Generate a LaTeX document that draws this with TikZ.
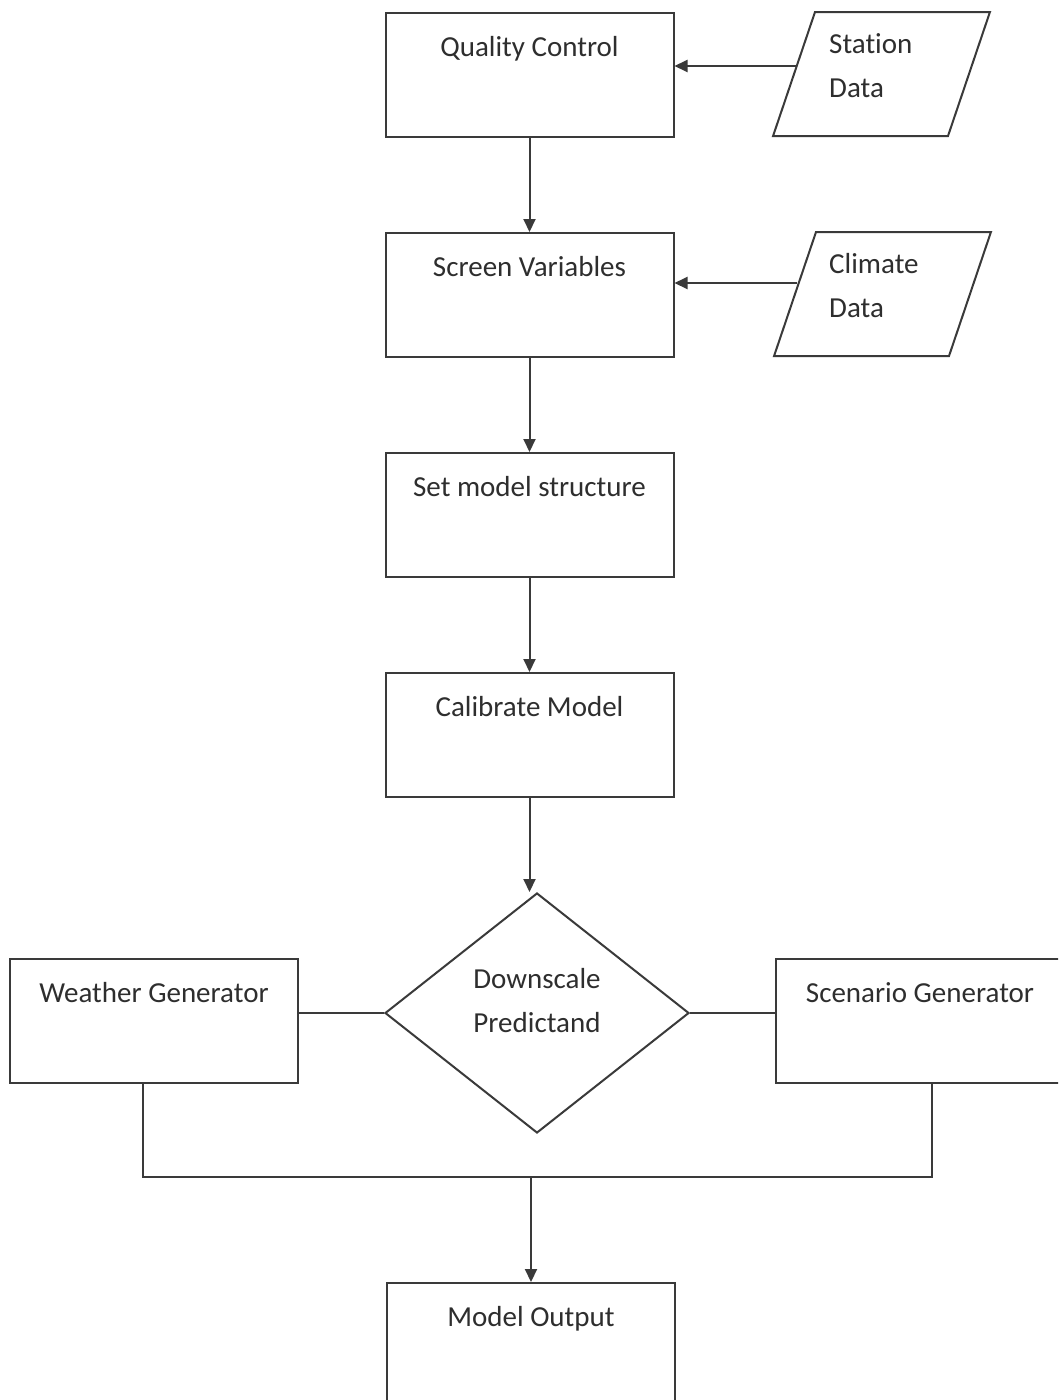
\documentclass[tikz,border=0pt]{standalone}
\usepackage{fontspec}
\setmainfont{Carlito}[Ligatures={NoCommon}]
\usetikzlibrary{arrows.meta,shapes.geometric,calc}
\definecolor{linec}{HTML}{3A3A3A}
\definecolor{txtc}{HTML}{2E2E2E}
\begin{document}
\begin{tikzpicture}[x=1pt,y=-1pt,
  line/.style={draw=linec, line width=2pt},
  arr/.style={line, -{Triangle[length=13pt,width=12pt]}},
  txt/.style={font=\fontsize{29}{44}\selectfont, text=txtc},
  box/.style={line, txt, rectangle, minimum width=288pt, inner xsep=0pt, inner ysep=0pt,
    text height=43pt, text depth=81pt, anchor=north},
  para/.style={line, trapezium, trapezium left angle=72.5, trapezium right angle=107.5,
    trapezium stretches=true, minimum width=217pt, minimum height=124pt, inner sep=4pt},
  lbl/.style={txt, align=left, inner sep=0pt, anchor=west},
  dmd/.style={line, diamond, minimum width=304pt, minimum height=240pt, inner sep=4pt},
]
\path[use as bounding box] (0,0) rectangle (1058,1400);
\clip (0,0) rectangle (1058,1400);
\fill[white] (0,0) rectangle (1058,1400);

% main column
\node[box] (qc)  at (529.5,12)  {Quality Control};
\node[box] (sv)  at (529.5,232) {Screen Variables};
\node[box] (sms) at (529.5,452) {Set model structure};
\node[box] (cm)  at (529.5,672) {Calibrate Model};
\node[box] (mo)  at (531,1282)  {Model Output};

% data inputs
\node[para] (stn) at (881.5,74) {};
\node[lbl] (stnT) at (829,66) {Station\\Data};
\node[para] (cli) at (882.5,294) {};
\node[lbl] (cliT) at (829,286) {Climate\\Data};

% decision and generators
\node[dmd] (dia) at (537,1013) {};
\node[txt, align=center, inner sep=0pt] (diaT) at (537,1001) {Downscale\\Predictand};
\node[box] (wg) at (154,958) {Weather Generator};
\node[box] (sg) at (920,958) {Scenario Generator};
\coordinate (jn) at (531,1177);

% connectors
\draw[arr] ([xshift=3pt,yshift=8pt]stn.west) -- ([yshift=8pt]stn.west -| qc.east);
\draw[arr] ([xshift=3.5pt,yshift=11pt]cli.west) -- ([yshift=11pt]cli.west -| sv.east);
\draw[arr] (qc.south) -- (sv.north);
\draw[arr] (sv.south) -- (sms.north);
\draw[arr] (sms.south) -- (cm.north);
\draw[arr] (cm.south) -- (cm.south |- dia.north);
\draw[line] (dia.west) -- (dia.west -| wg.east);
\draw[line] (dia.east) -- (dia.east -| sg.west);
\draw[line] ([xshift=-11pt]wg.south) -- ([xshift=-11pt]wg.south |- jn)
  -- ([xshift=12pt]sg.south |- jn) -- ([xshift=12pt]sg.south);
\draw[arr] (jn) -- (mo.north);
\end{tikzpicture}
\end{document}
